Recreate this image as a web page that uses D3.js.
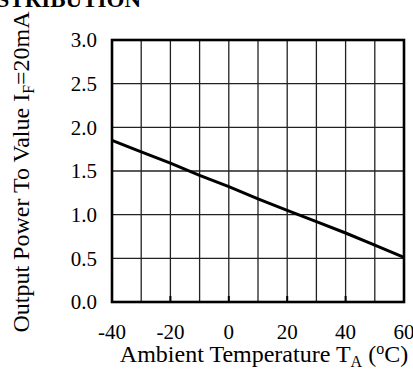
<!DOCTYPE html>
<html>
<head>
<meta charset="utf-8">
<script src="https://cdn.jsdelivr.net/npm/d3@7"></script>
<style>
  html, body { margin: 0; padding: 0; background: #fff; }
  svg { display: block; font-family: "Liberation Serif", "Times New Roman", serif; }
</style>
</head>
<body>
<div id="chart" style="width:413px;height:369px"></div>
<script>
// temperature (°C) vs relative output power
const temps = [-40, -30, -20, -10, 0, 10, 20, 30, 40, 50, 60];
const power = [1.85, 1.72, 1.59, 1.45, 1.32, 1.18, 1.05, 0.92, 0.79, 0.65, 0.51];
const xTicks = [-40, -20, 0, 20, 40, 60];
const yTicks = [0, 0.5, 1.0, 1.5, 2.0, 2.5, 3.0];
const xGrid = d3.range(-40, 61, 10);

const W = 413, H = 369;
const margin = {t: 40, r: 9, b: 67, l: 112};
const innerWidth = W - margin.l - margin.r;
const innerHeight = H - margin.t - margin.b;

const scaleX = d3.scaleLinear().domain([-40, 60]).range([0, innerWidth]);
const scaleY = d3.scaleLinear().domain([0, 3]).range([innerHeight, 0]);

const svg = d3.select('#chart').append('svg')
	.attr('width', W)
	.attr('height', H);

// cropped heading from the datasheet page
svg.append('text')
	.attr('x', 141).attr('y', 7)
	.attr('text-anchor', 'end')
	.style('font-size', '23px')
	.style('font-weight', 'bold')
	.text('DISTRIBUTION');

const plot = svg.append('g')
	.attr('transform', `translate(${margin.l}, ${margin.t})`);

//grid
plot.append('g').selectAll('line.v')
	.data(xGrid.slice(1, -1))
	.join('line')
	.attr('x1', d => scaleX(d)).attr('x2', d => scaleX(d))
	.attr('y1', 0).attr('y2', innerHeight)
	.style('stroke', '#222').style('stroke-width', 1.3);

plot.append('g').selectAll('line.h')
	.data(yTicks.slice(1, -1))
	.join('line')
	.attr('x1', 0).attr('x2', innerWidth)
	.attr('y1', d => scaleY(d)).attr('y2', d => scaleY(d))
	.style('stroke', '#222').style('stroke-width', 1.3);

// small inner ticks at labelled temps
plot.append('g').selectAll('line')
	.data(xTicks.slice(1, -1))
	.join('line')
	.attr('x1', d => scaleX(d)).attr('x2', d => scaleX(d))
	.attr('y1', innerHeight - 6).attr('y2', innerHeight)
	.style('stroke', '#000').style('stroke-width', 2);

// data line
const lineGenerator = d3.line()
	.x((d, i) => scaleX(temps[i]))
	.y(d => scaleY(d));

plot.append('path')
	.datum(power)
	.attr('d', lineGenerator)
	.style('fill', 'none')
	.style('stroke', '#000')
	.style('stroke-width', 3);

// frame
plot.append('rect')
	.attr('width', innerWidth).attr('height', innerHeight)
	.style('fill', 'none')
	.style('stroke', '#000')
	.style('stroke-width', 2.6);

// tick labels
plot.append('g').selectAll('text')
	.data(yTicks)
	.join('text')
	.attr('x', -15)
	.attr('y', d => scaleY(d))
	.attr('dy', '0.35em')
	.attr('text-anchor', 'end')
	.style('font-size', '21px')
	.text(d => d3.format('.1f')(d));

plot.append('g').selectAll('text')
	.data(xTicks)
	.join('text')
	.attr('x', d => scaleX(d))
	.attr('y', innerHeight + 37)
	.attr('text-anchor', 'middle')
	.style('font-size', '21px')
	.text(d => d);

// axis titles
const xt = svg.append('text')
	.attr('x', 264)
	.attr('y', 362)
	.attr('text-anchor', 'middle')
	.style('font-size', '24px');
xt.append('tspan').text('Ambient Temperature T');
xt.append('tspan').attr('dy', 5).style('font-size', '16px').text('A');
xt.append('tspan').attr('dy', -5).text(' (');
xt.append('tspan').attr('dy', -8).style('font-size', '16px').text('o');
xt.append('tspan').attr('dy', 8).text('C)');

const yt = svg.append('text')
	.attr('transform', `translate(29, 172) rotate(-90)`)
	.attr('text-anchor', 'middle')
	.style('font-size', '24px');
yt.append('tspan').text('Output Power To Value I');
yt.append('tspan').attr('dy', 5).style('font-size', '16px').text('F');
yt.append('tspan').attr('dy', -5).text('=20mA');
</script>
</body>
</html>
